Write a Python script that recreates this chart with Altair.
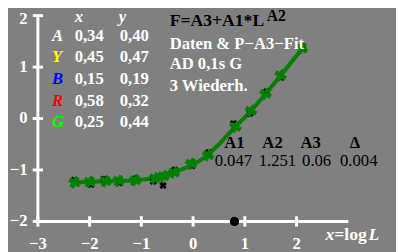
import altair as alt
import pandas as pd

# ---- data ----
curve_x = [-2.25, -2.0, -1.75, -1.5, -1.25, -1.0, -0.75, -0.5, -0.25, 0.0, 0.25, 0.5, 0.75, 1.0, 1.25, 1.5, 1.75, 2.0, 2.15]
curve_y = [-1.24, -1.23, -1.22, -1.21, -1.21, -1.19, -1.16, -1.10, -1.00, -0.90, -0.74, -0.50, -0.23, 0.02, 0.30, 0.60, 0.91, 1.22, 1.43]

green_x = [-2.29, -2.0, -1.69, -1.44, -1.12, -0.74, -0.57, -0.37, -0.04, 0.29, 0.82, 1.12, 1.40, 1.69, 2.10]
green_y = [-1.24, -1.23, -1.22, -1.21, -1.20, -1.16, -1.12, -1.05, -0.88, -0.71, -0.16, 0.15, 0.48, 0.84, 1.36]

black_x = [-2.30, -1.97, -1.72, -1.42, -1.10, -0.77, -0.58, -0.35, -0.02, 0.30, 0.78, 1.10, 1.42, 1.70, 2.12]
black_y = [-1.20, -1.28, -1.18, -1.25, -1.17, -1.22, -1.30, -1.00, -0.92, -0.66, -0.10, 0.10, 0.52, 0.80, 1.40]

marker_x = [0.80]
marker_y = [-2.0]

x_ticks = [-3, -2, -1, 0, 1, 2]
x_tick_labels = ["\u22123", "\u22122", "\u22121", "0", "1", "2"]
y_ticks = [-2, -1, 0, 1, 2]
y_tick_labels = ["\u22122", "\u22121", "0", "1", "2"]

legend_letters = ["A", "Y", "B", "R", "G"]
legend_colors = ["#ffffff", "#ffff00", "#0000ff", "#ff0000", "#00ff00"]
legend_xv = ["0,34", "0,45", "0,15", "0,58", "0,25"]
legend_yv = ["0,40", "0,47", "0,19", "0,32", "0,44"]

param_names = ["A1", "A2", "A3", "\u0394"]
param_values = ["0.047", "1.251", "0.06", "0.004"]

info_lines = ["Daten & P\u2212A3\u2212Fit", "AD 0,1s G", "3 Wiederh."]

# ---- scales: whole canvas is the plot area (page margin of 8px compensated) ----
OFF = 8
W, H = 404 - OFF, 252 - OFF
X0, XU = 196.9 - OFF, 52.8
Y0, YU = 118.3 - OFF, 52.5
xs = alt.Scale(domain=[-X0 / XU, (W - X0) / XU], nice=False, zero=False)
ys = alt.Scale(domain=[(Y0 - H) / YU, Y0 / YU], nice=False, zero=False)

def X(f):
    return alt.X(f, type="quantitative", scale=xs, axis=None)

def Y(f):
    return alt.Y(f, type="quantitative", scale=ys, axis=None)

FONT = "Liberation Serif"

# axes
axes_df = pd.DataFrame({"x": [-3, -3], "y": [-2, -2], "x2": [-3, 3], "y2": [2, -2]})
axes = alt.Chart(axes_df).mark_rule(color="white", strokeWidth=3).encode(
    x=X("x"), y=Y("y"), x2="x2", y2="y2")

tk = 0.1
xt_df = pd.DataFrame({"x": x_ticks, "lab": x_tick_labels})
xt_df["y"] = -2 - tk
xt_df["y2"] = -2 + tk
xt_df["ly"] = -2.53
xticks = alt.Chart(xt_df).mark_rule(color="white", strokeWidth=3).encode(
    x=X("x"), y=Y("y"), y2="y2")
xlabels = alt.Chart(xt_df).mark_text(font=FONT, fontWeight="bold", fontSize=17, color="white",
                                     align="center", baseline="alphabetic").encode(
    x=X("x"), y=Y("ly"), text="lab:N")

yt_df = pd.DataFrame({"y": y_ticks, "lab": y_tick_labels})
yt_df["x"] = -3 - tk
yt_df["x2"] = -3 + tk
yt_df["lx"] = -3.2
yt_df["ly"] = yt_df["y"].clip(upper=1.93)
yticks = alt.Chart(yt_df).mark_rule(color="white", strokeWidth=3).encode(
    y=Y("y"), x=X("x"), x2="x2")
ylabels = alt.Chart(yt_df).mark_text(font=FONT, fontWeight="bold", fontSize=17, color="white",
                                     align="right", baseline="middle").encode(
    x=X("lx"), y=Y("ly"), text="lab:N")

# curve and points
curve = alt.Chart(pd.DataFrame({"x": curve_x, "y": curve_y})).mark_line(
    color="#008000", strokeWidth=4).encode(x=X("x"), y=Y("y"))
greens = alt.Chart(pd.DataFrame({"x": green_x, "y": green_y})).mark_point(
    shape="cross", filled=True, color="#008000", size=150, angle=30, opacity=1).encode(
    x=X("x"), y=Y("y"))
blacks = alt.Chart(pd.DataFrame({"x": black_x, "y": black_y})).mark_point(
    shape="cross", filled=True, color="black", size=60, angle=45, opacity=1).encode(
    x=X("x"), y=Y("y"))
dot = alt.Chart(pd.DataFrame({"x": marker_x, "y": marker_y})).mark_point(
    shape="circle", filled=True, color="black", size=90, opacity=1).encode(
    x=X("x"), y=Y("y"))

def txt(s, px, py, color="white", weight="bold", style="normal", size=17, align="left"):
    return alt.Chart(pd.DataFrame({"t": [s]})).mark_text(
        font=FONT, fontWeight=weight, fontStyle=style, fontSize=size, color=color,
        align=align, baseline="middle").encode(
        x=alt.value(px - OFF), y=alt.value(py - OFF), text="t:N")

layers = [axes, xticks, yticks, xlabels, ylabels, curve, blacks, greens, dot]
# x = log L label
layers += [txt("x", 332, 237, style="italic", size=18),
           txt("=log", 341, 237, size=18),
           txt("L", 376, 237, style="italic", size=18)]

# legend table
layers += [txt("x", 76, 15, style="italic"), txt("y", 121, 15, style="italic")]
rows_y = [34, 56, 78, 100, 122]
for letter, col, xv, yv, ry in zip(legend_letters, legend_colors, legend_xv, legend_yv, rows_y):
    layers += [txt(letter, 53, ry, color=col, style="italic"),
               txt(xv, 76, ry), txt(yv, 122, ry)]

# title and info
layers += [txt("F=A3+A1*L", 173, 19, color="black", size=18),
           txt("A2", 272, 14, color="black", size=16)]
for line, ly in zip(info_lines, [42, 63, 85]):
    layers.append(txt(line, 173, ly))

# parameter table
for name, val, cx, vx in zip(param_names, param_values, [239, 278, 317, 362], [238, 283, 323, 366]):
    layers.append(txt(name, cx, 143, color="black", align="center"))
    layers.append(txt(val, vx, 162, color="black", weight="normal", align="center"))

chart = alt.layer(*layers).properties(
    width=W, height=H, padding=0, background="#808080",
    autosize=alt.AutoSizeParams(type="none")
).configure_view(stroke=None)

chart.save("out.html", embed_options={"renderer": "svg", "actions": False})
